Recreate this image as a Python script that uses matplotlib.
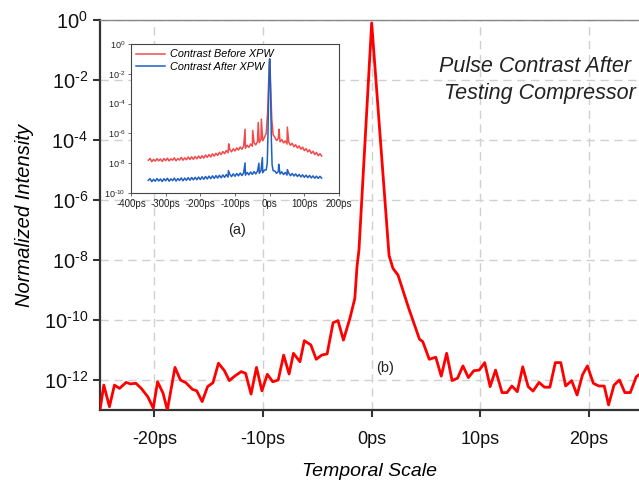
import matplotlib
matplotlib.use('Agg')
import matplotlib.pyplot as plt
from matplotlib.ticker import NullLocator
import numpy as np

plt.rcParams['font.family'] = 'Liberation Sans'
plt.rcParams['mathtext.fontset'] = 'custom'
plt.rcParams['mathtext.rm'] = 'Liberation Sans'
plt.rcParams['mathtext.it'] = 'Liberation Sans:italic'

# ---- main trace (ps, log10 intensity) ----
main_t = [-25.0, -24.65, -24.13, -23.67, -23.2, -22.6, -22.2, -21.7, -21.2, -20.6,
          -20.1, -19.7, -19.2, -18.8, -18.1, -17.6, -17.1, -16.5, -16.1, -15.6,
          -15.1, -14.6, -14.1, -13.55, -13.1, -12.6, -12.0, -11.6, -11.1, -10.6,
          -10.1, -9.6, -9.1, -8.6, -8.1, -7.6, -7.2, -6.6, -6.2, -5.6,
          -5.1, -4.6, -4.1, -3.55, -3.1, -2.6, -2.0, -1.55, -1.35, -1.17,
          0.0, 1.6, 1.96, 2.42, 3.4, 4.4, 4.7, 5.3, 5.9, 6.4,
          6.9, 7.4, 7.9, 8.4, 8.9, 9.4, 9.9, 10.4, 10.9, 11.4,
          12.0, 12.45, 12.9, 13.4, 13.9, 14.4, 14.85, 15.4, 15.9, 16.4,
          16.9, 17.4, 17.85, 18.4, 18.9, 19.4, 19.85, 20.4, 20.9, 21.4,
          21.8, 22.3, 22.8, 23.3, 23.8, 24.35, 24.7]
main_log = [-13.0, -12.17, -12.89, -12.17, -12.28, -12.08, -12.13, -12.11, -12.28, -12.56,
            -12.94, -12.06, -12.44, -13.0, -11.58, -12.0, -12.09, -12.31, -12.36, -12.72,
            -12.22, -12.09, -11.44, -11.69, -12.02, -11.87, -11.72, -11.78, -12.47, -11.58,
            -12.36, -11.81, -12.06, -12.0, -11.17, -11.8, -11.11, -11.39, -10.69, -10.83,
            -11.31, -11.17, -11.13, -10.09, -10.02, -10.67, -9.94, -9.28, -8.22, -7.67,
            -0.1, -7.85, -8.28, -8.5, -9.6, -10.64, -10.72, -11.31, -11.24, -11.87,
            -11.11, -12.02, -11.94, -11.53, -11.92, -11.69, -11.67, -11.42, -12.22, -11.67,
            -12.42, -12.42, -12.2, -12.39, -11.56, -12.22, -12.37, -12.08, -12.24, -12.24,
            -11.42, -11.42, -12.2, -12.02, -12.5, -11.83, -11.53, -12.11, -12.2, -12.2,
            -12.83, -12.17, -12.0, -12.42, -12.42, -11.89, -11.8]

# ---- inset: contrast before / after XPW ----
left_t = np.arange(-350, -14, 5)
right_t = np.arange(15, 151, 5)

before_left = [-7.80, -7.68, -7.90, -7.74, -7.86, -7.70, -7.84, -7.72, -7.88, -7.69,
               -7.83, -7.66, -7.85, -7.71, -7.80, -7.64, -7.84, -7.69, -7.79, -7.61,
               -7.80, -7.64, -7.77, -7.58, -7.75, -7.57, -7.74, -7.55, -7.71, -7.52,
               -7.68, -7.50, -7.66, -7.45, -7.61, -7.42, -7.58, -7.37, -7.53, -7.33,
               -7.48, -7.27, -7.42, -7.22, -7.36, -7.15, -7.30, -7.09, -7.24, -7.03,
               -7.18, -6.97, -7.12, -6.91, -7.06, -6.85, -7.00, -6.79, -6.94, -6.71,
               -6.86, -6.63, -6.77, -6.53, -6.62, -6.40, -6.50, -6.27]
before_right = [-6.26, -6.48, -6.33, -6.56, -6.41, -6.64, -6.50, -6.72, -6.58, -6.80,
                -6.66, -6.90, -6.76, -6.98, -6.84, -7.06, -6.92, -7.16, -7.02, -7.24,
                -7.10, -7.34, -7.20, -7.42, -7.28, -7.50, -7.36, -7.52]
before_peak_t = [-118, -71, -49, -33, -24, -10, -6, -3, -1, 0, 1, 3, 6, 10, 27, 51]
before_peak = [-6.7, -5.72, -5.8, -5.27, -5.04, -6.0, -4.6, -2.6, -1.4, -1.0, -1.5, -3.0, -5.0, -6.1, -5.72, -5.58]

after_left = [-9.15, -9.04, -9.24, -9.08, -9.21, -9.03, -9.19, -9.06, -9.23, -9.04,
              -9.18, -9.01, -9.21, -9.05, -9.17, -9.00, -9.20, -9.03, -9.16, -8.99,
              -9.18, -9.00, -9.15, -8.97, -9.14, -8.96, -9.12, -8.95, -9.11, -8.93,
              -9.10, -8.91, -9.08, -8.89, -9.06, -8.87, -9.04, -8.85, -9.02, -8.83,
              -9.00, -8.81, -8.98, -8.79, -8.95, -8.76, -8.93, -8.74, -8.90, -8.71,
              -8.88, -8.69, -8.85, -8.66, -8.83, -8.64, -8.80, -8.62, -8.78, -8.59,
              -8.75, -8.56, -8.72, -8.52, -8.68, -8.49, -8.64, -8.46]
after_right = [-8.52, -8.68, -8.55, -8.72, -8.58, -8.76, -8.62, -8.80, -8.66, -8.84,
               -8.69, -8.86, -8.72, -8.89, -8.75, -8.92, -8.78, -8.95, -8.80, -8.97,
               -8.82, -8.99, -8.85, -9.01, -8.87, -9.02, -8.88, -9.00]
after_peak_t = [-119, -71, -31, -21, -10, -7, -5, -3, -1, 0, 1, 3, 5, 7, 10, 26, 51]
after_peak = [-8.5, -7.98, -8.0, -7.62, -8.45, -8.0, -6.2, -3.5, -1.3, -1.0, -1.4, -3.8, -6.5, -8.1, -8.5, -8.07, -8.43]


def merge(t_parts, v_parts):
    t = np.concatenate(t_parts)
    v = np.concatenate(v_parts)
    order = np.argsort(t, kind='stable')
    return t[order], 10 ** v[order]


bt, bv = merge([left_t, right_t, before_peak_t], [before_left, before_right, before_peak])
at, av = merge([left_t, right_t, after_peak_t], [after_left, after_right, after_peak])

fig = plt.figure(figsize=(6.39, 4.82), dpi=100)
ax = fig.add_axes([100 / 639, 72 / 482, 539 / 639, 390 / 482])
ax.plot(main_t, 10 ** np.array(main_log), color='#ff0000', lw=2.0, zorder=3)
ax.set_yscale('log')
ax.set_xlim(-25, 24.6)
ax.set_ylim(1e-13, 1)

yexp = [0, -2, -4, -6, -8, -10, -12]
ax.set_yticks([10.0 ** e for e in yexp])
ax.set_yticklabels([r'$10^{\text{%d}}$' % e for e in yexp], fontsize=14.5)
ax.yaxis.set_minor_locator(NullLocator())
xt = [-20, -10, 0, 10, 20]
ax.set_xticks(xt)
ax.set_xticklabels(['%dps' % v for v in xt], fontsize=13)
ax.tick_params(length=5, width=1.5, color='#333333', labelcolor='#111111')
ax.tick_params(axis='x', pad=10)
ax.grid(True, ls=(0, (6, 4)), color='#d0d0d0', lw=1)
for s in ['left', 'bottom']:
    ax.spines[s].set_color('#333333')
    ax.spines[s].set_linewidth(1.6)
ax.spines['top'].set_color('#888888')
ax.spines['top'].set_linewidth(1)
ax.spines['right'].set_visible(False)

ax.set_ylabel('Normalized Intensity', fontsize=14.5, style='italic', labelpad=7)
ax.set_xlabel('Temporal Scale', fontsize=14, style='italic', labelpad=11)

fig.text(631 / 639, 1 - 66 / 482, 'Pulse Contrast After', ha='right', va='center',
         fontsize=15.5, style='italic', color='#222222')
fig.text(636 / 639, 1 - 93 / 482, 'Testing Compressor', ha='right', va='center',
         fontsize=15.5, style='italic', color='#222222')
fig.text(237 / 639, 1 - 230 / 482, '(a)', ha='center', va='center', fontsize=10.5, color='#222222')
fig.text(385 / 639, 1 - 368 / 482, '(b)', ha='center', va='center', fontsize=10.5, color='#222222')

# inset
ins = fig.add_axes([131 / 639, (482 - 193) / 482, 208 / 639, 149 / 482], zorder=5)
ins.set_facecolor('white')
ins.plot(bt, bv, color='#f24a4a', lw=1.1, label='Contrast Before XPW')
ins.plot(at, av, color='#1f5fc4', lw=1.1, label='Contrast After XPW')
ins.set_yscale('log')
ins.set_xlim(-400, 200)
ins.set_ylim(1e-10, 1)
iexp = [0, -2, -4, -6, -8, -10]
ins.set_yticks([10.0 ** e for e in iexp])
ins.set_yticklabels([r'$10^{\text{%d}}$' % e for e in iexp], fontsize=6.5)
ins.yaxis.set_minor_locator(NullLocator())
ixt = [-400, -300, -200, -100, 0, 100, 200]
ins.set_xticks(ixt)
ins.set_xticklabels(['%dps' % v for v in ixt], fontsize=7)
ins.tick_params(length=2, width=0.6, pad=2, color='#555555', labelcolor='#222222')
for s in ins.spines.values():
    s.set_color('#444444')
    s.set_linewidth(0.8)
ins.legend(loc='upper left', frameon=False, handlelength=2.6, handletextpad=0.5,
           borderaxespad=0.2, borderpad=0.3, labelspacing=0.25,
           prop={'style': 'italic', 'size': 7.8})

fig.savefig('out.png', dpi=100, facecolor='white')
